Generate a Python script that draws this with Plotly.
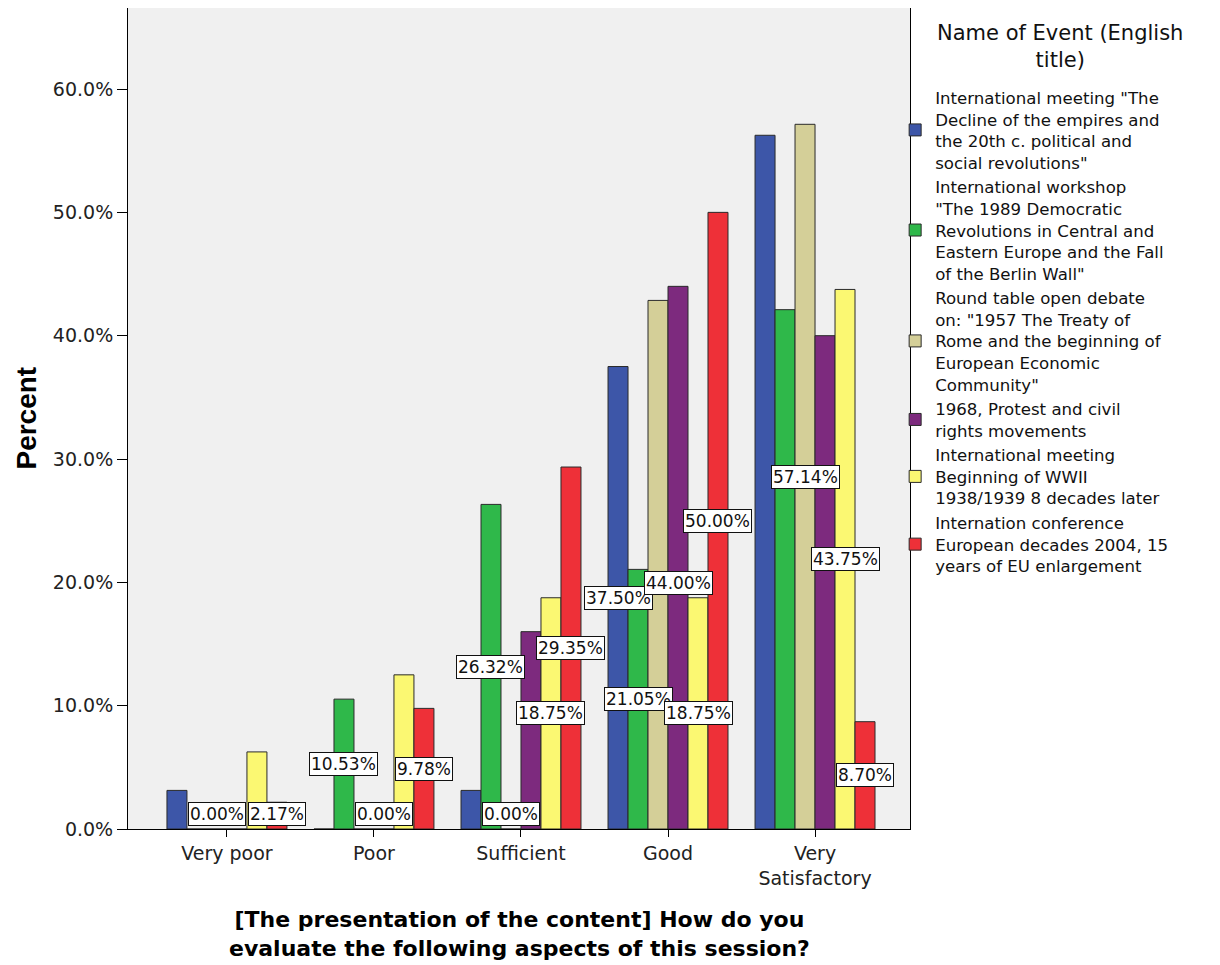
import plotly.graph_objects as go

categories = ["Very poor", "Poor", "Sufficient", "Good", "Very<br>Satisfactory"]

series_names = [
    "International meeting \"The<br>Decline of the empires and<br>the 20th c. political and<br>social revolutions\"",
    "International workshop<br>\"The 1989 Democratic<br>Revolutions in Central and<br>Eastern Europe and the Fall<br>of the Berlin Wall\"",
    "Round table open debate<br>on: \"1957 The Treaty of<br>Rome and the beginning of<br>European Economic<br>Community\"",
    "1968, Protest and civil<br>rights movements",
    "International meeting<br>Beginning of WWII<br>1938/1939 8 decades later",
    "Internation conference<br>European decades 2004, 15<br>years of EU enlargement",
]

decline_vals = [3.13, 0.00, 3.13, 37.50, 56.25]
workshop1989_vals = [0.00, 10.53, 26.32, 21.05, 42.11]
rome1957_vals = [0.00, 0.00, 0.00, 42.86, 57.14]
protest1968_vals = [0.00, 0.00, 16.00, 44.00, 40.00]
wwii_vals = [6.25, 12.50, 18.75, 18.75, 43.75]
eu2004_vals = [2.17, 9.78, 29.35, 50.00, 8.70]

y_tick_vals = [0, 10, 20, 30, 40, 50, 60]

legend_title = "Name of Event (English<br>title)"

# bars that carry a value label: (series index, category index)
labeled_bars = [(2, 0), (5, 0), (1, 1), (3, 1), (5, 1), (1, 2), (2, 2), (4, 2), (5, 2),
                (0, 3), (1, 3), (3, 3), (4, 3), (5, 3), (2, 4), (4, 4), (5, 4)]

all_vals = [decline_vals, workshop1989_vals, rome1957_vals, protest1968_vals, wwii_vals, eu2004_vals]
colors = ["#3D56A8", "#2FB84A", "#D4CF98", "#7D2A7E", "#FBF872", "#EE3038"]

bar_w = 0.136
group_start = -3 * bar_w
xpos = list(range(len(categories)))

fig = go.Figure()
for k, (name, vals) in enumerate(zip(series_names, all_vals)):
    fig.add_trace(go.Bar(
        x=xpos, y=vals, name=name,
        width=bar_w, offset=group_start + k * bar_w,
        marker=dict(color=colors[k], line=dict(color="#2a2a2a", width=1)),
        hoverinfo="y",
    ))

annotations = []
label_shift = {(3, 3): -25}
for (k, i) in labeled_bars:
    v = all_vals[k][i]
    annotations.append(dict(
        x=i + group_start + (k + 0.5) * bar_w, y=max(v / 2.0, 1.2),
        xref="x", yref="y", text=f"{v:.2f}%", showarrow=False,
        yshift=label_shift.get((k, i), 0),
        font=dict(family="DejaVu Sans", size=17, color="#111111"),
        bgcolor="white", bordercolor="#111111", borderwidth=1, borderpad=1,
    ))

annotations.append(dict(
    x=0.5, y=-0.128, xref="paper", yref="paper", showarrow=False,
    text="[The presentation of the content] How do you<br>evaluate the following aspects of this session?",
    font=dict(family="DejaVu Sans", size=22, color="#000000", weight="bold"),
    xanchor="center", yanchor="middle", align="center",
))
annotations.append(dict(
    x=-0.1304, y=0.5, xref="paper", yref="paper", showarrow=False, textangle=-90,
    text="Percent",
    font=dict(family="Liberation Sans", size=28, color="#000000", weight="bold"),
    xanchor="center", yanchor="middle",
))
# legend title
annotations.append(dict(
    x=1.1912, y=0.9531, xref="paper", yref="paper", showarrow=False,
    text=legend_title, align="center",
    font=dict(family="DejaVu Sans", size=21, color="#111111"),
    xanchor="center", yanchor="middle",
))

fig.update_layout(
    width=1220, height=965,
    template="none",
    margin=dict(l=120, r=318, t=0, b=144),
    paper_bgcolor="white", plot_bgcolor="#F0F0F0",
    barmode="overlay",
    showlegend=True,
    legend=dict(
        x=0.981, xanchor="left", y=0.912, yanchor="top",
        bgcolor="rgba(0,0,0,0)", borderwidth=0,
        font=dict(family="DejaVu Sans", size=16.6, color="#111111"),
        traceorder="normal", tracegroupgap=0,
    ),
    xaxis=dict(
        range=[-0.673, 4.646], tickvals=xpos, ticktext=categories,
        showline=True, linecolor="#000000", linewidth=1, mirror=True,
        ticks="outside", ticklen=7, tickcolor="#000000",
        showgrid=False, zeroline=False,
        tickfont=dict(family="DejaVu Sans", size=19, color="#222222"),
    ),
    yaxis=dict(
        range=[0, 66.57], tickvals=y_tick_vals,
        ticktext=[f"{t:.1f}%" for t in y_tick_vals],
        showline=True, linecolor="#000000", linewidth=1, mirror=True,
        ticks="outside", ticklen=10, tickcolor="#000000",
        showgrid=False, zeroline=False,
        tickfont=dict(family="DejaVu Sans", size=19, color="#222222"),
    ),
    annotations=annotations,
)

fig.write_html("out.html")
